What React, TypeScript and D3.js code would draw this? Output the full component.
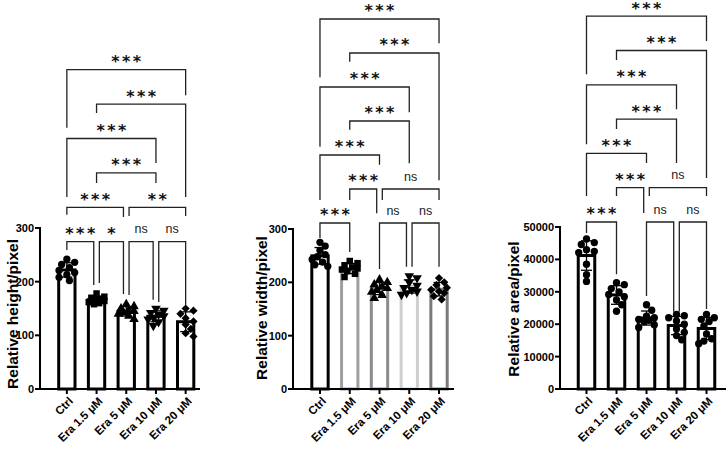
import React from 'react';
import * as d3 from 'd3';

const categories = ['Ctrl', 'Era 1.5 μM', 'Era 5 μM', 'Era 10 μM', 'Era 20 μM'];

// Relative height/pixel
const heightCtrl = [242, 236, 232, 226, 221, 217, 213, 208, 202];
const heightEra15 = [178, 172, 170, 168, 166, 164, 162, 160, 158];
const heightEra5 = [158, 154, 150, 147, 145, 142, 140, 136, 130];
const heightEra10 = [150, 146, 142, 139, 136, 133, 130, 125, 118];
const heightEra20 = [150, 146, 140, 132, 126, 120, 112, 104, 98];

// Relative width/pixel
const widthCtrl = [275, 268, 260, 252, 248, 243, 238, 233, 230];
const widthEra15 = [240, 236, 232, 228, 226, 224, 221, 216, 210];
const widthEra5 = [205, 200, 196, 192, 189, 185, 182, 176, 170];
const widthEra10 = [212, 208, 200, 194, 190, 186, 183, 180, 177];
const widthEra20 = [208, 200, 195, 190, 186, 183, 180, 174, 168];

// Relative area/pixel
const areaCtrl = [46300, 45200, 44600, 43000, 42500, 42100, 38500, 35300, 33200];
const areaEra15 = [32800, 32200, 31000, 30000, 29200, 28500, 27500, 26000, 24000];
const areaEra5 = [26000, 24300, 22500, 22000, 21500, 21200, 20800, 19800, 19000];
const areaEra10 = [23000, 22600, 22000, 21000, 20000, 18500, 17500, 16500, 15200];
const areaEra20 = [23000, 22000, 21500, 20800, 19500, 17000, 15500, 14800, 14000];

const heightTicks = [0, 100, 200, 300];
const widthTicks = [0, 100, 200, 300];
const areaTicks = [0, 10000, 20000, 30000, 40000, 50000];

// Significance comparisons: [groupA, groupB, row, legA end (row units), legB end (row units), label]
type Bracket = [number, number, number, number, number, string];
const heightSig: Bracket[] = [
  [0, 1, 0, -0.24, -1.26, '***'],
  [1, 2, 0, -1.2, -1.52, '*'],
  [2, 3, 0, -1.55, -1.69, 'ns'],
  [3, 4, 0, -1.75, -1.84, 'ns'],
  [0, 2, 1, 0.78, 0.72, '***'],
  [2, 4, 1, 0.75, 0.75, '**'],
  [1, 3, 2, 1.71, 1.71, '***'],
  [0, 3, 3, 1.3, 2.29, '***'],
  [1, 4, 4, 3.74, 1.3, '***'],
  [0, 4, 5, 3.31, 4.26, '***'],
];
const widthSig: Bracket[] = [
  [0, 1, 0, -0.44, -0.85, '***'],
  [2, 3, 0, -1.35, -1.29, 'ns'],
  [3, 4, 0, -1.29, -1.29, 'ns'],
  [1, 2, 1, 0.68, 0.29, '***'],
  [2, 4, 1, 0.68, 0.68, 'ns'],
  [0, 2, 2, 0.68, 1.71, '***'],
  [1, 3, 3, 2.74, 1.76, '***'],
  [0, 3, 4, 2.24, 3.26, '***'],
  [1, 4, 5, 4.74, 1.26, '***'],
  [0, 4, 6, 4.29, 5.29, '***'],
];
const areaSig: Bracket[] = [
  [0, 1, 0, -0.32, -1.52, '***'],
  [2, 3, 0, -2.16, -2.62, 'ns'],
  [3, 4, 0, -2.62, -2.54, 'ns'],
  [1, 2, 1, 0.76, 0.26, '***'],
  [2, 4, 1, 0.76, 0.76, 'ns'],
  [0, 2, 2, 0.76, 1.72, '***'],
  [1, 3, 3, 2.71, 1.72, '***'],
  [0, 3, 4, 2.27, 3.29, '***'],
  [1, 4, 5, 4.72, 1.28, '***'],
  [0, 4, 6, 4.31, 5.28, '***'],
];

const symbolSet = ['circle', 'square', 'triangle', 'triangleDown', 'diamond'];
const circleSet = ['circle', 'circle', 'circle', 'circle', 'circle'];
const blackBars = ['#000', '#000', '#000', '#000', '#000'];
const grayBars = ['#000', '#9e9e9e', '#8c8c8c', '#cfcfcf', '#7a7a7a'];

interface PanelCfg {
  groups: number[][];
  ticks: number[];
  yLabel: string;
  axisX: number;
  band: [number, number];
  axisEnd: number;
  yTop: number;
  yBottom: number;
  barColors: string[];
  symbols: string[];
  brackets: Bracket[];
  rowBase: number;
  rowGap: number;
  labelX: number;
  labelY: number;
}

const panels: PanelCfg[] = [
  {
    groups: [heightCtrl, heightEra15, heightEra5, heightEra10, heightEra20],
    ticks: heightTicks, yLabel: 'Relative height/pixel',
    axisX: 40, band: [52, 200.5], axisEnd: 200, yTop: 228, yBottom: 389,
    barColors: blackBars, symbols: symbolSet, brackets: heightSig, rowBase: 241.7, rowGap: 34.4,
    labelX: 12, labelY: 314,
  },
  {
    groups: [widthCtrl, widthEra15, widthEra5, widthEra10, widthEra20],
    ticks: widthTicks, yLabel: 'Relative width/pixel',
    axisX: 293, band: [305.1, 453.9], axisEnd: 454, yTop: 229, yBottom: 389,
    barColors: grayBars, symbols: symbolSet, brackets: widthSig, rowBase: 223, rowGap: 34,
    labelX: 261, labelY: 308,
  },
  {
    groups: [areaCtrl, areaEra15, areaEra5, areaEra10, areaEra20],
    ticks: areaTicks, yLabel: 'Relative area/pixel',
    axisX: 560, band: [571.5, 721.5], axisEnd: 726, yTop: 227, yBottom: 389,
    barColors: blackBars, symbols: circleSet, brackets: areaSig, rowBase: 222, rowGap: 34.3,
    labelX: 513, labelY: 309,
  },
];

function symbolPath(name: string): string {
  switch (name) {
    case 'square':
      return d3.symbol().type(d3.symbolSquare).size(42)() as string;
    case 'triangle':
    case 'triangleDown':
      return d3.symbol().type(d3.symbolTriangle).size(40)() as string;
    case 'diamond':
      return d3.symbol().type(d3.symbolSquare).size(34)() as string;
    default:
      return d3.symbol().type(d3.symbolCircle).size(42)() as string;
  }
}
function symbolRot(name: string): number {
  if (name === 'triangleDown') return 180;
  if (name === 'diamond') return 45;
  return 0;
}

function swarm(ys: number[], minDist = 6.4, step = 2.6, maxOff = 10): number[] {
  const order = ys.map((y, i) => ({ y, i })).sort((a, b) => a.y - b.y);
  const placed: { x: number; y: number }[] = [];
  const out: number[] = new Array(ys.length).fill(0);
  for (const { y, i } of order) {
    let best = 0;
    let bestD = -1;
    for (let k = 0; k < 20; k++) {
      const off = k === 0 ? 0 : (k % 2 ? 1 : -1) * Math.ceil(k / 2) * step;
      if (Math.abs(off) > maxOff) break;
      const d = placed.length ? d3.min(placed, (p) => Math.hypot(p.x - off, p.y - y))! : Infinity;
      if (d >= minDist) { best = off; bestD = d; break; }
      if (d > bestD) { bestD = d; best = off; }
    }
    placed.push({ x: best, y });
    out[i] = best;
  }
  return out;
}

const FONT = '"Liberation Sans", Arial, Helvetica, sans-serif';

function Panel({ cfg }: { cfg: PanelCfg }) {
  const yMax = cfg.ticks[cfg.ticks.length - 1];
  const y = d3.scaleLinear().domain([0, yMax]).range([cfg.yBottom, cfg.yTop]);
  const x = d3.scaleBand<string>().domain(categories).range(cfg.band).paddingInner(0.35).paddingOuter(0.175);
  const cx = (i: number) => (x(categories[i]) as number) + x.bandwidth() / 2;
  const barW = x.step() * 0.65;
  const bw = 3;
  const rowY = (r: number) => cfg.rowBase - r * cfg.rowGap;
  const fmt = d3.format('d');

  return (
    <g>
      {/* bars */}
      {cfg.groups.map((vals, i) => {
        const m = d3.mean(vals)!;
        return (
          <rect key={'b' + i} x={cx(i) - barW / 2 + bw / 2} y={y(m)} width={barW - bw}
            height={y(0) - y(m)} fill="#fff" stroke={cfg.barColors[i]} strokeWidth={bw} />
        );
      })}
      {/* points */}
      {cfg.groups.map((vals, i) => {
        const ys = vals.map((v) => y(v));
        const offs = swarm(ys);
        const p = symbolPath(cfg.symbols[i]);
        const rot = symbolRot(cfg.symbols[i]);
        return (
          <g key={'p' + i}>
            {vals.map((v, j) => (
              <path key={j} d={p} fill="#000"
                transform={`translate(${cx(i) + offs[j]},${y(v)}) rotate(${rot})`} />
            ))}
          </g>
        );
      })}
      {/* error bars (mean ± SD) */}
      {cfg.groups.map((vals, i) => {
        const m = d3.mean(vals)!;
        const sd = d3.deviation(vals)!;
        const c = cx(i);
        const hw = 5.5;
        return (
          <g key={'e' + i} stroke="#000" strokeWidth={1.3} fill="none">
            <line x1={c} x2={c} y1={y(m - sd)} y2={y(m + sd)} />
            <line x1={c - hw} x2={c + hw} y1={y(m + sd)} y2={y(m + sd)} />
            <line x1={c - hw} x2={c + hw} y1={y(m - sd)} y2={y(m - sd)} />
          </g>
        );
      })}
      {/* y axis */}
      <line x1={cfg.axisX} x2={cfg.axisX} y1={y(yMax) - 1} y2={y(0) + 1} stroke="#000" strokeWidth={2} />
      {cfg.ticks.map((t) => (
        <g key={'t' + t}>
          <line x1={cfg.axisX - 5} x2={cfg.axisX} y1={y(t)} y2={y(t)} stroke="#000" strokeWidth={2} />
          <text x={cfg.axisX - 6} y={y(t)} dy="0.36em" textAnchor="end" fontFamily={FONT}
            fontWeight="bold" fontSize={11} fill="#000">{fmt(t)}</text>
        </g>
      ))}
      {/* x axis */}
      <line x1={cfg.axisX - 1} x2={cfg.axisEnd} y1={y(0)} y2={y(0)} stroke="#000" strokeWidth={2} />
      {categories.map((c, i) => (
        <g key={'c' + i}>
          <line x1={cx(i)} x2={cx(i)} y1={y(0)} y2={y(0) + 5} stroke="#000" strokeWidth={2} />
          <text transform={`translate(${cx(i) + 4},${y(0) + 10}) rotate(-45)`} dy="0.35em"
            textAnchor="end" fontFamily={FONT} fontWeight="bold" fontSize={11.5} fill="#000">{c}</text>
        </g>
      ))}
      {/* y label */}
      <text transform={`translate(${cfg.labelX},${cfg.labelY}) rotate(-90)`} textAnchor="middle"
        dy="0.36em" fontFamily={FONT} fontWeight="bold" fontSize={15.5} fill="#000">{cfg.yLabel}</text>
      {/* significance brackets */}
      {cfg.brackets.map((b, k) => {
        const [a, bb, row, la, lb, label] = b;
        const sharedL = cfg.brackets.some((o) => o !== b && o[2] === row && o[1] === a);
        const sharedR = cfg.brackets.some((o) => o !== b && o[2] === row && o[0] === bb);
        const off = 2.8;
        const xa = cx(a) + (sharedL ? off : 0);
        const xb = cx(bb) - (sharedR ? off : 0);
        const ly = rowY(row);
        const isStar = label.indexOf('*') >= 0;
        const ls = 2.4;
        return (
          <g key={'s' + k}>
            <path d={`M${xa},${rowY(la)}V${ly}H${xb}V${rowY(lb)}`} fill="none" stroke="#222" strokeWidth={1.3} />
            {isStar ? (
              <text x={(xa + xb) / 2} y={ly - 2.6} dx={ls / 2} textAnchor="middle" fontFamily='"DejaVu Sans", sans-serif'
                fontWeight="bold" fontSize={16} letterSpacing={ls} fill="#111">{label}</text>
            ) : (
              <text x={(xa + xb) / 2} y={ly - 8.5} textAnchor="middle" fontFamily={FONT}
                fontSize={12.5} fill="#222">{label}</text>
            )}
          </g>
        );
      })}
    </g>
  );
}

export default function App() {
  return (
    <svg width={728} height={450} viewBox="0 0 728 450"
      style={{ position: 'absolute', left: 0, top: 0, background: '#fff' }}>
      <rect width={728} height={450} fill="#fff" />
      {panels.map((p, i) => <Panel key={i} cfg={p} />)}
    </svg>
  );
}
